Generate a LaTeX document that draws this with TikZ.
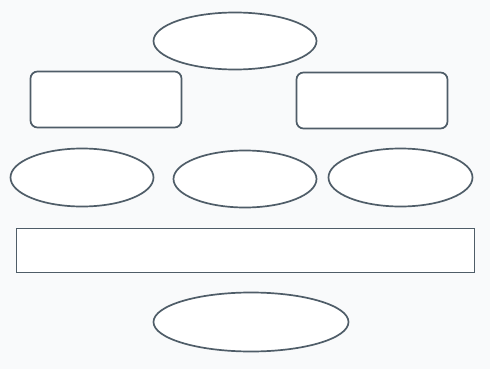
\documentclass[tikz,border=0pt]{standalone}
\usepackage{tikz}
\usetikzlibrary{shapes.geometric}
\definecolor{shapegrey}{HTML}{4F5D68}
\definecolor{pagebg}{HTML}{F9FAFB}
\tikzset{
    oval/.style={ellipse,draw=shapegrey,fill=white,line width=1.7pt,inner sep=0pt},
    card/.style={rectangle,rounded corners=7pt,draw=shapegrey,fill=white,line width=1.7pt,inner sep=0pt},
    band/.style={rectangle,draw=shapegrey,fill=white,line width=1.7pt,inner sep=0pt}
}
\begin{document}
\begin{tikzpicture}[x=1pt,y=-1pt]
\fill[pagebg] (0,0) rectangle (490,369);
\useasboundingbox (0,0) rectangle (490,369);
% top row
\node[oval,minimum width=163pt,minimum height=57pt] (top) at (235,41) {};
% second row
\node[card,minimum width=151pt,minimum height=56pt] (lcard) at (106,99.5) {};
\node[card,minimum width=151pt,minimum height=56pt] (rcard) at (372,100.5) {};
% third row
\node[oval,minimum width=143pt,minimum height=58pt] (lovl) at (82,177.5) {};
\node[oval,minimum width=143pt,minimum height=57pt] (movl) at (245,179) {};
\node[oval,minimum width=144pt,minimum height=58pt] (rovl) at (400.5,177.5) {};
% long bar
\node[band,minimum width=458pt,minimum height=44pt] (bar) at (245.5,250.5) {};
% bottom
\node[oval,minimum width=195pt,minimum height=59pt] (bottom) at (251,322) {};
\end{tikzpicture}
\end{document}
